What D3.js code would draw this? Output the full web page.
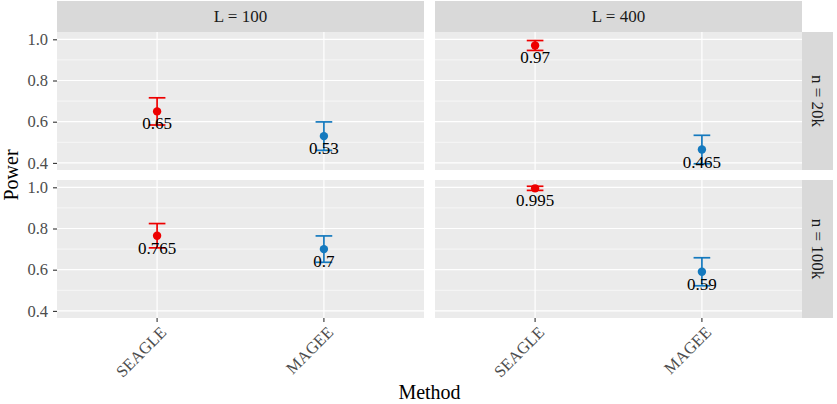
<!DOCTYPE html>
<html>
<head>
<meta charset="utf-8">
<script src="https://cdn.jsdelivr.net/npm/d3@7"></script>
<style>
  body{margin:0;background:#fff;}
  text{font-family:"Liberation Serif","DejaVu Serif",serif;}
</style>
</head>
<body>
<div id="chart"></div>
<script>
// facet levels
const colFacets = ['L = 100','L = 400'];
const rowFacets = ['n = 20k','n = 100k'];
const methods = ['SEAGLE','MAGEE'];
const methodColors = ['#ED0000','#1479BE'];
const yTicks = [0.4,0.6,0.8,1.0];
const yMinor = [0.5,0.7,0.9];

// one entry per point
const cellRow = ['n = 20k','n = 20k','n = 20k','n = 20k','n = 100k','n = 100k','n = 100k','n = 100k'];
const cellCol = ['L = 100','L = 100','L = 400','L = 400','L = 100','L = 100','L = 400','L = 400'];
const cellMethod = ['SEAGLE','MAGEE','SEAGLE','MAGEE','SEAGLE','MAGEE','SEAGLE','MAGEE'];
const power = [0.65,0.53,0.97,0.465,0.765,0.7,0.995,0.59];
const lower = [0.584,0.461,0.946,0.396,0.706,0.636,0.985,0.522];
const upper = [0.716,0.599,0.994,0.534,0.824,0.764,1.005,0.658];

const W = 837, H = 404;
const svg = d3.select('#chart').append('svg').attr('width',W).attr('height',H);

const panelW = 367, panelH = 138, gap = 11, gapY = 10;
const plotL = 57, plotT = 32, stripH = 31, stripW = 31;

// discrete expand: 0.6 units each side
const xs = d3.scaleLinear().domain([0.4,2.6]).range([0,panelW]);
const xPos = m => xs(methods.indexOf(m)+1);
const lo = d3.min(lower), hi = d3.max(upper), pad = (hi-lo)*0.05;
const y = d3.scaleLinear().domain([lo-pad, hi+pad]).range([panelH,0]);
const color = d3.scaleOrdinal().domain(methods).range(methodColors);

const data = power.map((v,i)=>({row:cellRow[i], col:cellCol[i], method:cellMethod[i], v, lo:lower[i], hi:upper[i]}));

rowFacets.forEach((rf,ri)=>{
  colFacets.forEach((cf,ci)=>{
    const px = plotL + ci*(panelW+gap), py = plotT + ri*(panelH+gapY);
    const g = svg.append('g').attr('transform',`translate(${px},${py})`);
    g.append('rect').attr('width',panelW).attr('height',panelH).attr('fill','#EBEBEB');
    g.selectAll('.minor').data(yMinor).enter().append('line')
      .attr('x1',0).attr('x2',panelW).attr('y1',d=>y(d)).attr('y2',d=>y(d))
      .attr('stroke','#fff').attr('stroke-width',0.6);
    g.selectAll('.major').data(yTicks).enter().append('line')
      .attr('x1',0).attr('x2',panelW).attr('y1',d=>y(d)).attr('y2',d=>y(d))
      .attr('stroke','#fff').attr('stroke-width',1.2);
    g.selectAll('.vmajor').data(methods).enter().append('line')
      .attr('x1',d=>xPos(d)).attr('x2',d=>xPos(d)).attr('y1',0).attr('y2',panelH)
      .attr('stroke','#fff').attr('stroke-width',1.2);

    const pts = data.filter(d=>d.row===rf && d.col===cf);
    const eb = g.selectAll('.eb').data(pts).enter().append('g').attr('stroke',d=>color(d.method)).attr('stroke-width',1.7);
    const hw = (xs(1.05)-xs(0.95))/2;
    eb.append('line').attr('x1',d=>xPos(d.method)).attr('x2',d=>xPos(d.method)).attr('y1',d=>y(d.lo)).attr('y2',d=>y(d.hi));
    eb.append('line').attr('x1',d=>xPos(d.method)-hw).attr('x2',d=>xPos(d.method)+hw).attr('y1',d=>y(d.lo)).attr('y2',d=>y(d.lo));
    eb.append('line').attr('x1',d=>xPos(d.method)-hw).attr('x2',d=>xPos(d.method)+hw).attr('y1',d=>y(d.hi)).attr('y2',d=>y(d.hi));
    g.selectAll('.pt').data(pts).enter().append('circle')
      .attr('cx',d=>xPos(d.method)).attr('cy',d=>y(d.v)).attr('r',4.2).attr('fill',d=>color(d.method));
    g.selectAll('.lab').data(pts).enter().append('text')
      .attr('x',d=>xPos(d.method)).attr('y',d=>y(d.v)+18).attr('text-anchor','middle')
      .attr('font-size',17).attr('fill','#000').text(d=>String(d.v));

    // y axis on left column
    if(ci===0){
      const ax = svg.append('g').attr('transform',`translate(${px},${py})`)
        .call(d3.axisLeft(y).tickValues(yTicks).tickFormat(d3.format('.1f')).tickSize(4).tickPadding(5));
      ax.select('.domain').remove();
      ax.selectAll('line').attr('stroke','#333').attr('stroke-width',1.1);
      ax.selectAll('text').attr('font-size',16.5).attr('fill','#4D4D4D').attr('font-family','Liberation Serif');
    }
    // x axis on bottom row
    if(ri===rowFacets.length-1){
      const ax = svg.append('g').attr('transform',`translate(${px},${py+panelH})`);
      methods.forEach(m=>{
        ax.append('line').attr('x1',xPos(m)).attr('x2',xPos(m)).attr('y1',0).attr('y2',4)
          .attr('stroke','#333').attr('stroke-width',1.1);
        ax.append('text').attr('transform',`translate(${xPos(m)+2},${7}) rotate(-45)`)
          .attr('text-anchor','end').attr('dy','0.72em').attr('font-size',16.5).attr('fill','#4D4D4D').text(m);
      });
    }
    // top strip
    if(ri===0){
      svg.append('rect').attr('x',px).attr('y',plotT-stripH).attr('width',panelW).attr('height',stripH).attr('fill','#D9D9D9');
      svg.append('text').attr('x',px+panelW/2).attr('y',plotT-stripH/2).attr('dy','0.35em').attr('text-anchor','middle')
        .attr('font-size',17).attr('fill','#1A1A1A').text(cf);
    }
    // right strip
    if(ci===colFacets.length-1){
      const sx = px+panelW;
      svg.append('rect').attr('x',sx).attr('y',py).attr('width',stripW).attr('height',panelH).attr('fill','#D9D9D9');
      svg.append('text').attr('transform',`translate(${sx+stripW/2},${py+panelH/2}) rotate(90)`)
        .attr('dy','0.35em').attr('text-anchor','middle').attr('font-size',17).attr('fill','#1A1A1A').text(rf);
    }
  });
});

// axis titles
svg.append('text').attr('x',plotL+(2*panelW+gap)/2).attr('y',399).attr('text-anchor','middle')
  .attr('font-size',20).attr('fill','#000').text('Method');
svg.append('text').attr('transform',`translate(18,${plotT+(2*panelH+gapY)/2}) rotate(-90)`).attr('text-anchor','middle')
  .attr('font-size',20).attr('fill','#000').text('Power');
</script>
</body>
</html>
